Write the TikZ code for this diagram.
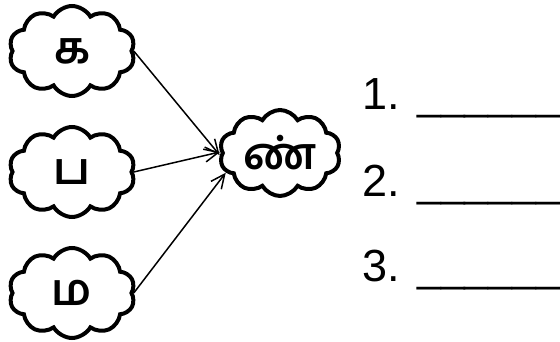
\documentclass[tikz,border=0pt]{standalone}
\usepackage{fontspec}
\setmainfont{Liberation Sans}
\newfontfamily\tamilfont[Script=Tamil]{Hind Madurai}
\usetikzlibrary{shapes.symbols, arrows.meta, positioning}

\begin{document}
\begin{tikzpicture}[x=1pt, y=1pt, >={Straight Barb[length=14pt, width=13pt]}]
    \useasboundingbox (0,0) rectangle (560,342);
    \tikzset{
        puff/.style={cloud, cloud ignores aspect, draw, line width=4pt,
            cloud puffs=10, cloud puff arc=120, minimum width=126pt,
            minimum height=90pt, inner sep=0pt,
            font=\tamilfont\bfseries\fontsize{44}{44}\selectfont},
        blank/.style={anchor=base west, inner sep=0pt,
            font=\fontsize{45}{45}\selectfont}
    }
    % 1. Các đám mây chữ cái
    \node[puff] (ka) at (72,291) {க};
    \node[puff] (pa) at (72,170) {ப};
    \node[puff] (ma) at (72,49) {ம};
    \node[puff, minimum width=121pt, minimum height=86pt] (nn) at (280,189) {ண்};

    % 2. Mũi tên
    \draw[->, line width=1.5pt] (ka.east) -- (nn.182);
    \draw[->, line width=1.5pt] (pa.east) -- (nn.179);
    \draw[->, line width=1.5pt] (ma.east) -- (nn.200);

    % 3. Chỗ trống để viết
    \node[blank] (b1) at (362,232) {1.\hspace{0.39em}{\fontsize{42.8}{45}\selectfont\_\_\_\_\_\_}};
    \node[blank] (b2) at (362,145) {2.\hspace{0.39em}{\fontsize{42.8}{45}\selectfont\_\_\_\_\_\_}};
    \node[blank] (b3) at (362,60) {3.\hspace{0.39em}{\fontsize{42.8}{45}\selectfont\_\_\_\_\_\_}};
\end{tikzpicture}
\end{document}
